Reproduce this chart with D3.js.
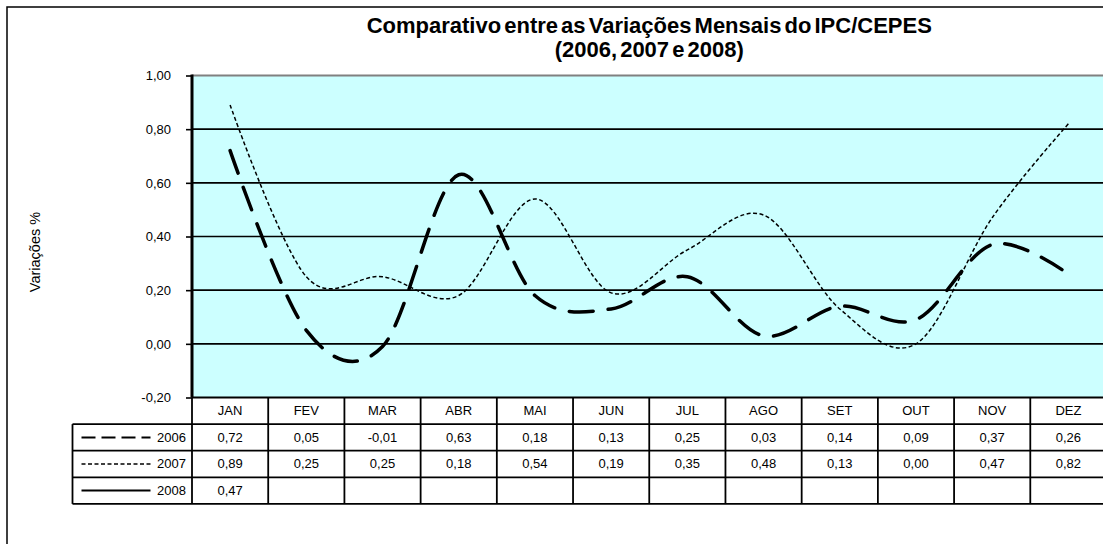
<!DOCTYPE html>
<html>
<head>
<meta charset="utf-8">
<script src="https://cdn.jsdelivr.net/npm/d3@7"></script>
<style>
  html, body { margin: 0; padding: 0; background: #fff; }
  svg { display: block; font-family: "Liberation Sans", Arial, sans-serif; }
</style>
</head>
<body>
<svg id="chart" width="1103" height="544"></svg>
<script>
// ---- data ----
const months = ["JAN","FEV","MAR","ABR","MAI","JUN","JUL","AGO","SET","OUT","NOV","DEZ"];
const values2006 = [0.72,0.05,-0.01,0.63,0.18,0.13,0.25,0.03,0.14,0.09,0.37,0.26];
const values2007 = [0.89,0.25,0.25,0.18,0.54,0.19,0.35,0.48,0.13,0.00,0.47,0.82];
const values2008 = [0.47];
const seriesNames = ["2006","2007","2008"];
const yTicks = [-0.2,0,0.2,0.4,0.6,0.8,1.0];
const titleLines = ["Comparativo entre as Variações Mensais do IPC/CEPES","(2006, 2007 e 2008)"];
const yLabel = "Variações %";

const series = [
  {name: seriesNames[0], values: values2006, width: 3.5, dash: "24,15", cap: "round", legendDash: "14,6", legendWidth: 2},
  {name: seriesNames[1], values: values2007, width: 1.5, dash: "4,2.5", cap: "butt", legendDash: "4,2.5", legendWidth: 1.5},
  {name: seriesNames[2], values: values2008, width: 2, dash: null, cap: "butt", legendDash: null, legendWidth: 2}
];

const svg = d3.select("#chart");
const fmt = v => d3.format(".2f")(v).replace(".", ",").replace("−", "-");

// layout
const plotLeft = 192, plotRight = 1106.5, plotTop = 75.5, plotBottom = 397.5;
const rowH = 26.6;
const legendLeft = 72.5;

const x = d3.scaleBand().domain(months).range([plotLeft, plotRight]);
const y = d3.scaleLinear().domain([-0.2, 1.0]).range([plotBottom, plotTop]);

// outer frame
svg.append("rect").attr("x", 7).attr("y", 7).attr("width", 1120).attr("height", 560)
  .attr("fill", "#fff").attr("stroke", "#000").attr("stroke-width", 1.5);

// plot background
svg.append("rect").attr("x", plotLeft).attr("y", plotTop)
  .attr("width", plotRight - plotLeft).attr("height", plotBottom - plotTop)
  .attr("fill", "#CCFFFF");

// gridlines
svg.append("g").selectAll("line").data(yTicks.filter(t => t > -0.2 && t < 1.0)).join("line")
  .attr("x1", plotLeft).attr("x2", plotRight)
  .attr("y1", d => y(d)).attr("y2", d => y(d))
  .attr("stroke", "#000").attr("stroke-width", 1.6);

// top border (gray)
svg.append("line").attr("x1", plotLeft).attr("x2", plotRight)
  .attr("y1", plotTop).attr("y2", plotTop).attr("stroke", "#808080").attr("stroke-width", 2);

// y axis
const yAxis = d3.axisLeft(y).tickValues(yTicks).tickSize(6).tickPadding(15).tickFormat(fmt);
const gy = svg.append("g").attr("transform", `translate(${plotLeft},0)`).call(yAxis);
gy.select(".domain").remove();
gy.selectAll(".tick line").attr("stroke", "#000").attr("stroke-width", 1.6);
gy.selectAll(".tick text").attr("font-size", 13).attr("fill", "#000")
  .attr("font-family", "Liberation Sans, Arial, sans-serif");
svg.append("line").attr("x1", plotLeft).attr("x2", plotLeft)
  .attr("y1", plotTop - 1).attr("y2", plotBottom).attr("stroke", "#000").attr("stroke-width", 3);

// lines
const line = d3.line()
  .x((d, i) => x(months[i]) + x.bandwidth() / 2)
  .y(d => y(d))
  .curve(d3.curveCardinal.tension(0));

svg.append("clipPath").attr("id", "pc").append("rect")
  .attr("x", plotLeft).attr("y", plotTop).attr("width", plotRight - plotLeft).attr("height", plotBottom - plotTop);

svg.append("g").attr("clip-path", "url(#pc)").selectAll("path").data(series.filter(s => s.values.length > 1)).join("path")
  .attr("d", s => line(s.values))
  .attr("fill", "none").attr("stroke", "#000")
  .attr("stroke-width", s => s.width)
  .attr("stroke-dasharray", s => s.dash)
  .attr("stroke-linecap", s => s.cap);

// data table
const tableTop = plotBottom;
const tbl = svg.append("g");
tbl.selectAll("text.month").data(months).join("text").attr("class", "month")
  .attr("x", d => x(d) + x.bandwidth() / 2).attr("y", tableTop + rowH / 2 + 1)
  .attr("text-anchor", "middle").attr("dominant-baseline", "middle")
  .attr("font-size", 13).text(d => d);

series.forEach((s, r) => {
  const rowY = tableTop + rowH * (r + 1);
  tbl.selectAll(null).data(s.values).join("text")
    .attr("x", (d, i) => x(months[i]) + x.bandwidth() / 2).attr("y", rowY + rowH / 2 + 1)
    .attr("text-anchor", "middle").attr("dominant-baseline", "middle")
    .attr("font-size", 13).text(d => fmt(d));
  tbl.append("line").attr("x1", legendLeft + 9).attr("x2", legendLeft + 78)
    .attr("y1", rowY + rowH / 2).attr("y2", rowY + rowH / 2)
    .attr("stroke", "#000").attr("stroke-width", s.legendWidth)
    .attr("stroke-dasharray", s.legendDash);
  tbl.append("text").attr("x", plotLeft - 6).attr("y", rowY + rowH / 2 + 1)
    .attr("text-anchor", "end").attr("dominant-baseline", "middle")
    .attr("font-size", 13).text(s.name);
});

// table grid lines
const tableBottom = tableTop + rowH * 4;
const hLines = [0, 1, 2, 3, 4];
tbl.selectAll("line.h").data(hLines).join("line").attr("class", "h")
  .attr("x1", d => d === 0 ? plotLeft : legendLeft).attr("x2", plotRight)
  .attr("y1", d => tableTop + rowH * d).attr("y2", d => tableTop + rowH * d)
  .attr("stroke", "#000").attr("stroke-width", 1.8);
tbl.selectAll("line.v").data(months.slice(1)).join("line").attr("class", "v")
  .attr("x1", d => x(d)).attr("x2", d => x(d))
  .attr("y1", tableTop).attr("y2", tableBottom)
  .attr("stroke", "#000").attr("stroke-width", 1.8);
tbl.append("line").attr("x1", plotLeft).attr("x2", plotLeft)
  .attr("y1", tableTop).attr("y2", tableBottom).attr("stroke", "#000").attr("stroke-width", 1.8);
tbl.append("line").attr("x1", legendLeft).attr("x2", legendLeft)
  .attr("y1", tableTop + rowH).attr("y2", tableBottom).attr("stroke", "#000").attr("stroke-width", 1.8);

// title
svg.append("text").attr("x", (plotLeft + plotRight) / 2).attr("y", 33)
  .attr("text-anchor", "middle").attr("font-size", 22).attr("font-weight", "bold")
  .attr("word-spacing", -3)
  .text(titleLines[0]);
svg.append("text").attr("x", (plotLeft + plotRight) / 2).attr("y", 57)
  .attr("text-anchor", "middle").attr("font-size", 22).attr("font-weight", "bold")
  .attr("word-spacing", -3)
  .text(titleLines[1]);

// y label
svg.append("text").attr("transform", "translate(40,252) rotate(-90)")
  .attr("text-anchor", "middle").attr("font-size", 14.5).text(yLabel);
</script>
</body>
</html>
